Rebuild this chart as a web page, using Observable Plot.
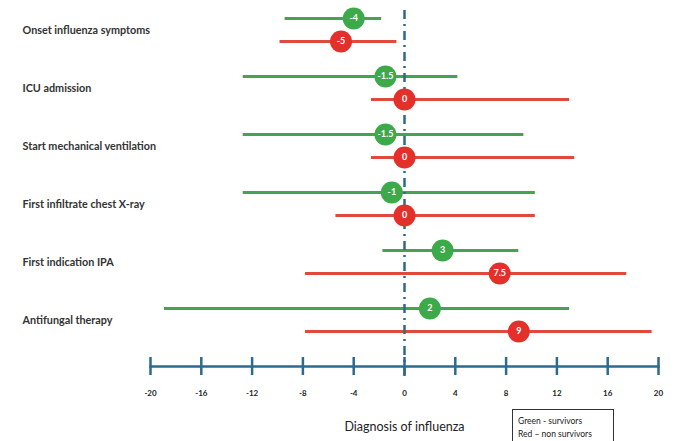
<!DOCTYPE html>
<html>
<head>
<meta charset="utf-8">
<script src="https://cdn.jsdelivr.net/npm/d3@7"></script>
<script src="https://cdn.jsdelivr.net/npm/@observablehq/plot@0.6"></script>
<style>
  body { margin: 0; background: #fff; }
  #wrap { position: relative; width: 676px; height: 441px; overflow: hidden; }
  #legend {
    position: absolute; left: 512px; top: 409px; width: 102px; height: 40px;
    border: 1px solid #333; padding: 5px 0 0 5px; box-sizing: border-box;
    font: 8.5px Lato, "Open Sans", sans-serif; color: #222; line-height: 13px; background: #fff;
  }
</style>
</head>
<body>
<div id="wrap"></div>
<script>
const events = [
  "Onset influenza symptoms",
  "ICU admission",
  "Start mechanical ventilation",
  "First infiltrate chest X-ray",
  "First indication IPA",
  "Antifungal therapy"
];
const greenPoint = [-4, -1.5, -1.5, -1, 3, 2];
const greenLow   = [-9.4, -12.7, -12.7, -12.7, -1.7, -18.9];
const greenHigh  = [-1.8, 4.2, 9.4, 10.3, 9.0, 13.0];
const redPoint   = [-5, 0, 0, 0, 7.5, 9];
const redLow     = [-9.8, -2.6, -2.6, -5.4, -7.8, -7.8];
const redHigh    = [-0.6, 13.0, 13.4, 10.3, 17.5, 19.5];
const xTicks     = [-20, -16, -12, -8, -4, 0, 4, 8, 12, 16, 20];
const xTitle     = "Diagnosis of influenza";
const legendLines = ["Green - survivors", "Red \u2013 non survivors"];

const green = events.map((e, i) => ({event: e, lo: greenLow[i], hi: greenHigh[i], med: greenPoint[i]}));
const red   = events.map((e, i) => ({event: e, lo: redLow[i], hi: redHigh[i], med: redPoint[i]}));

const axisColor = "#2c6a8e";
const greenLine = "#45a352", greenDot = "#3daa4a";
const redLine = "#e04a3e", redDot = "#e3302a";
const font = "Lato, 'Open Sans', sans-serif";
const gDy = -12, rDy = 11;

const chart = Plot.plot({
  width: 676,
  height: 441,
  marginLeft: 150,
  marginRight: 18,
  marginTop: 0,
  marginBottom: 75,
  style: {fontFamily: font, background: "#fff"},
  x: {domain: [-20, 20], axis: null},
  y: {type: "point", domain: events, range: [28, 321], padding: 0, axis: null},
  marks: [
    Plot.frame({anchor: "bottom", stroke: axisColor, strokeWidth: 2.5}),
    Plot.ruleX(xTicks, {x: d => d, stroke: axisColor, strokeWidth: 2.5, insetTop: 357, insetBottom: -9}),
    Plot.ruleY(green, {y: "event", x1: "lo", x2: "hi", stroke: greenLine, strokeWidth: 3, dy: gDy}),
    Plot.ruleY(red, {y: "event", x1: "lo", x2: "hi", stroke: redLine, strokeWidth: 3, dy: rDy}),
    Plot.ruleX([0], {stroke: axisColor, strokeWidth: 2.5, strokeDasharray: "9,5,2,5", insetTop: 10, insetBottom: -10}),
    Plot.dot(green, {x: "med", y: "event", r: 11, fill: greenDot, dy: gDy}),
    Plot.dot(red, {x: "med", y: "event", r: 11, fill: redDot, dy: rDy}),
    Plot.text(green, {x: "med", y: "event", text: d => String(d.med), fill: "white", fontWeight: "bold", fontSize: 9, dy: gDy}),
    Plot.text(red, {x: "med", y: "event", text: d => String(d.med), fill: "white", fontWeight: "bold", fontSize: 9, dy: rDy}),
    Plot.text(events, {y: d => d, frameAnchor: "left", dx: -128, textAnchor: "start", fontWeight: "bold", fontSize: 10.8, fill: "#333"}),
    Plot.text(xTicks, {x: d => d, frameAnchor: "bottom", dy: 29, fontSize: 8, fontWeight: "bold", fill: "#222"}),
    Plot.text([xTitle], {x: () => 0, frameAnchor: "bottom", dy: 64, fontSize: 12.5, fill: "#222", text: d => d})
  ]
});

const wrap = document.getElementById("wrap");
wrap.appendChild(chart);
const leg = document.createElement("div");
leg.id = "legend";
leg.innerHTML = legendLines.map(s => `<div>${s}</div>`).join("");
wrap.appendChild(leg);
</script>
</body>
</html>
